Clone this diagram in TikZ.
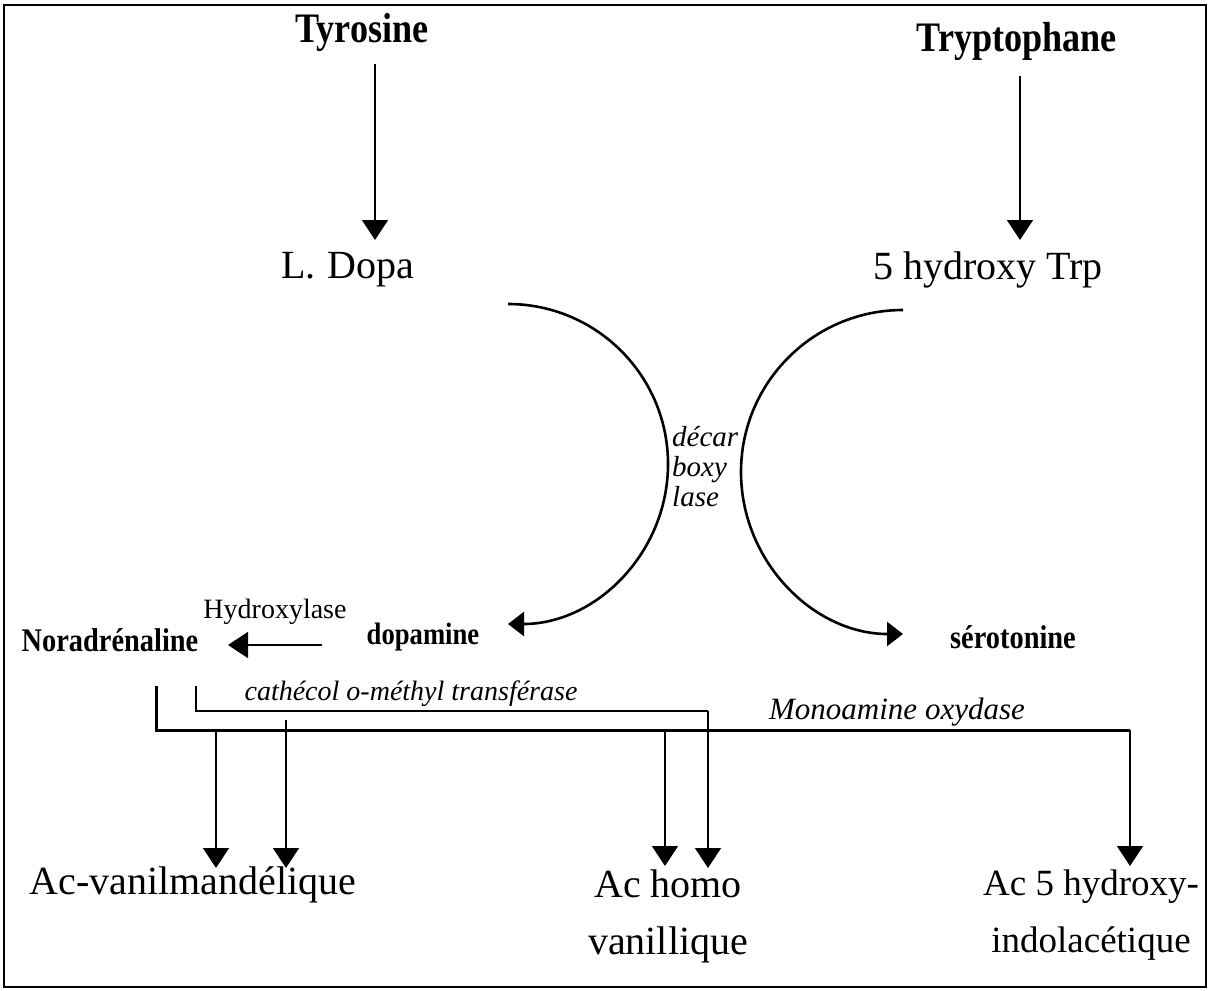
\documentclass[tikz,border=0pt]{standalone}
\usepackage{fontspec}
\usepackage{graphicx}
\setmainfont{Liberation Serif}
\usetikzlibrary{arrows.meta}
% tall, slightly condensed bold lettering
\newcommand\condtext[1]{\scalebox{0.86}[1]{#1}}
\begin{document}
\begin{tikzpicture}[x=1pt,y=-1pt,
  lbl/.style={inner sep=0pt},
  title/.style={lbl,font=\bfseries\fontsize{42}{46}\selectfont},
  big/.style={lbl,font=\fontsize{40}{57}\selectfont,align=center},
  mid/.style={lbl,font=\bfseries\fontsize{31}{34}\selectfont},
  enz/.style={lbl,font=\itshape\fontsize{28}{30}\selectfont},
  arr/.style={line width=1.4pt,-{Triangle[width=26pt,length=20pt]}},
  curve/.style={line width=2.6pt,-{Triangle[width=24pt,length=16pt]}},
  heavy/.style={line width=3pt},
  light/.style={line width=1.4pt}]
\useasboundingbox (0,0) rectangle (1211,991);
\fill[white] (0,0) rectangle (1211,991);
\draw[line width=2pt] (4,5) rectangle (1206,987);

% precursors and first products
\node[title] (tyr) at (362,32) {\condtext{Tyrosine}};
\node[title] (trp) at (1017,41) {\condtext{Tryptophane}};
\node[big] (dopa) at (348,270) {L.\hspace{0.3em}Dopa};
\node[big] (htp) at (988,270) {5 hydroxy Trp};
\coordinate (tyrA) at (375,64);
\coordinate (tyrB) at (375,240);
\coordinate (trpA) at (1020,76);
\coordinate (trpB) at (1020,240);
\draw[arr] (tyrA) -- (tyrB);
\draw[arr] (trpA) -- (trpB);

% decarboxylation
\node[mid] (da) at (423,637) {\condtext{dopamine}};
\node[mid,font=\bfseries\fontsize{33}{36}\selectfont] (ser) at (1013,637) {\condtext{sérotonine}};
\node[lbl,font=\itshape\fontsize{29}{30}\selectfont,align=left,anchor=west] (dec) at (672,467) {décar\\boxy\\lase};
\coordinate (dopaArc) at (508,304);
\coordinate (htpArc) at (903,310);
\draw[curve] (dopaArc) arc[start angle=-90,end angle=90,radius=160];
\draw[curve] (htpArc) arc[start angle=-90,end angle=-270,radius=162];

% hydroxylation
\node[mid,font=\bfseries\fontsize{33}{36}\selectfont] (nor) at (110,640) {\condtext{Noradrénaline}};
\node[lbl,font=\fontsize{28}{30}\selectfont] (hyd) at (275,612) {Hydroxylase};
\coordinate (hydA) at (322,645);
\coordinate (hydB) at (228,645);
\draw[arr] (hydA) -- (hydB);

% catabolism
\node[enz] (comt) at (411,694) {cathécol o-méthyl transférase};
\node[enz,font=\itshape\fontsize{31}{32}\selectfont] (mao) at (897,712) {Monoamine oxydase};
\node[big] (vma) at (193,885) {Ac-vanilmandélique};
\node[big,anchor=north] (hva) at (668,870) {Ac homo\\vanillique};
\node[big,anchor=north,font=\fontsize{37}{57}\selectfont] (hiaa) at (1091,870) {Ac 5 hydroxy-\\indolacétique};

\coordinate (maoTop) at (156,686);
\coordinate (maoL) at (156,730);
\coordinate (maoR) at (1130,730);
\coordinate (comtTop) at (196,686);
\coordinate (comtL) at (196,711);
\coordinate (comtR) at (708,711);
\draw[heavy] (maoTop) -- (maoL) -- (maoR);
\draw[light] (comtTop) -- (comtL) -- (comtR);

\coordinate (m1) at (216,730);
\coordinate (c1) at (286,720);
\coordinate (m2) at (665,730);
\draw[arr] (m1) -- (m1 |- 0,868);
\draw[arr] (c1) -- (c1 |- 0,868);
\draw[arr] (m2) -- (m2 |- 0,866);
\draw[arr] (comtR) -- (708,868);
\draw[arr] (maoR) -- (1130,866);
\end{tikzpicture}
\end{document}
